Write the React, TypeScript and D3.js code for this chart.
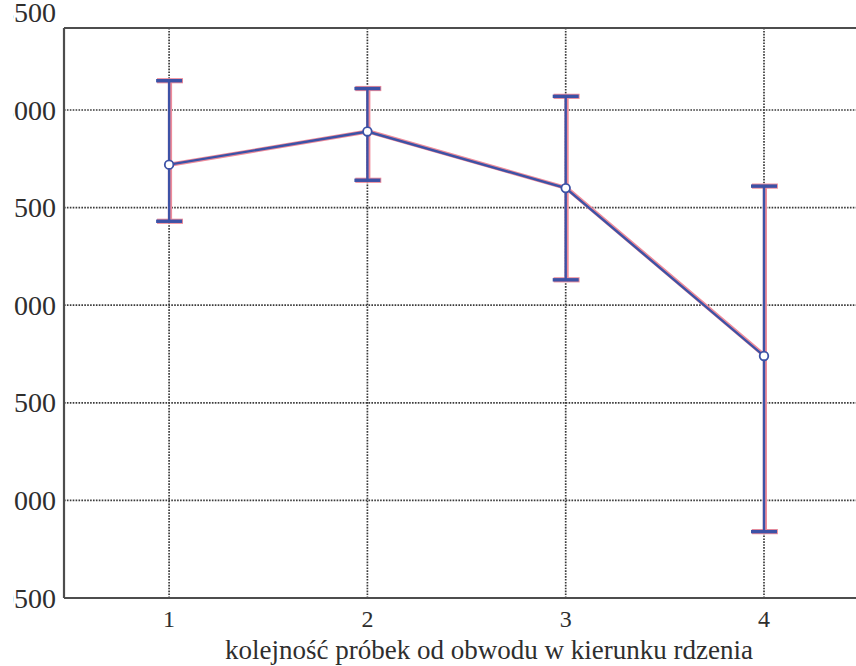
import React from "react";
import * as d3 from "d3";

// Sample order (from circumference toward the pith)
const samples = [1, 2, 3, 4];
const means = [12720, 12890, 12600, 11740];
const upper = [13150, 13110, 13070, 12610];
const lower = [12430, 12640, 12130, 10840];
const yTicks = [10500, 11000, 11500, 12000, 12500, 13000, 13500];
const xLabel = "kolejność próbek od obwodu w kierunku rdzenia";

const W = 856;
const H = 666;
const frame = { left: 64, top: 28, bottom: 598 };

export default function App() {
  const x = d3.scaleLinear().domain([0.47, 4.53]).range([64, 64 + 4.06 * 198.3]);
  const y = d3.scaleLinear().domain([10500, 13000]).range([598, 110]);

  const line = d3
    .line<number>()
    .x((_, i) => x(samples[i]))
    .y((d) => y(d));

  const serif = "'Liberation Serif', 'Times New Roman', serif";
  const blue = "#3c52a6";
  const halo = "#ef8c9a";
  const capHalf = 13;

  const drawSeries = (color: string, width: number, dx: number, dy: number) => (
    <g transform={`translate(${dx},${dy})`} stroke={color} strokeWidth={width} fill="none">
      {samples.map((s, i) => (
        <g key={s}>
          <line x1={x(s)} x2={x(s)} y1={y(upper[i])} y2={y(lower[i])} />
          <line x1={x(s) - capHalf} x2={x(s) + capHalf} y1={y(upper[i])} y2={y(upper[i])} strokeWidth={width + 1} />
          <line x1={x(s) - capHalf} x2={x(s) + capHalf} y1={y(lower[i])} y2={y(lower[i])} strokeWidth={width + 1} />
        </g>
      ))}
      <path d={line(means) ?? ""} />
    </g>
  );

  return (
    <svg
      width={W}
      height={H}
      style={{ position: "absolute", left: 0, top: 0, background: "#fff" }}
      fontFamily={serif}
    >
      <defs>
        <clipPath id="page">
          <rect x={13} y={0} width={W - 13} height={H} />
        </clipPath>
      </defs>
      <rect width={W} height={H} fill="#fff" />
      <g clipPath="url(#page)">
        {/* grid */}
        <g stroke="#3a3a3a" strokeWidth={1.7} strokeDasharray="1.6,1.3">
          {yTicks
            .filter((t) => y(t) > frame.top && y(t) < frame.bottom)
            .map((t) => (
              <line key={t} x1={frame.left} x2={W} y1={y(t)} y2={y(t)} />
            ))}
          {samples.map((s) => (
            <line key={s} x1={x(s)} x2={x(s)} y1={frame.top} y2={frame.bottom} />
          ))}
        </g>

        {/* frame */}
        <g stroke="#4d4d4d" strokeWidth={2.2} fill="none">
          <line x1={frame.left} x2={frame.left} y1={frame.top} y2={frame.bottom} />
          <line x1={frame.left} x2={W} y1={frame.top} y2={frame.top} />
          <line x1={frame.left} x2={W} y1={frame.bottom} y2={frame.bottom} />
        </g>

        {/* y tick labels */}
        <g fontSize={28} fill="#2e2e2e" textAnchor="end">
          {yTicks.map((t) => (
            <text key={t} x={56} y={y(t)} dy="0.34em">
              {t}
            </text>
          ))}
        </g>

        {/* x tick labels */}
        <g fontSize={24} fill="#2e2e2e" textAnchor="middle">
          {samples.map((s) => (
            <text key={s} x={x(s)} y={627}>
              {s}
            </text>
          ))}
        </g>
        <text x={489} y={659} fontSize={27} fill="#2e2e2e" textAnchor="middle">
          {xLabel}
        </text>

        {/* error bars and mean line */}
        {drawSeries(halo, 4.2, 0.9, 0)}
        {drawSeries(blue, 2.4, 0, 0)}
        {samples.map((s, i) => (
          <circle key={s} cx={x(s)} cy={y(means[i])} r={4.3} fill="#fff" stroke={blue} strokeWidth={1.8} />
        ))}
      </g>
    </svg>
  );
}
